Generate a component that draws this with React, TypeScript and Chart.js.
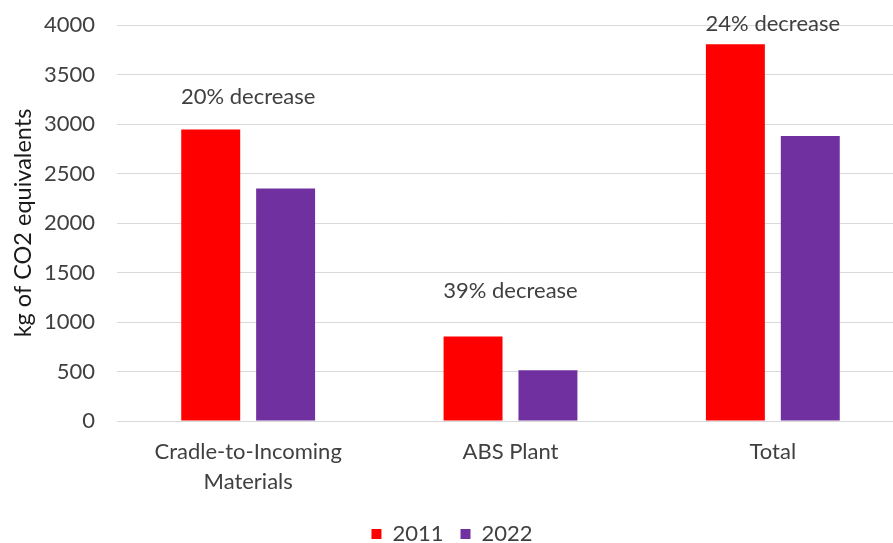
import React, { useEffect, useRef } from "react";
import { Chart, registerables } from "chart.js";

Chart.register(...registerables);

const categories: (string | string[])[] = [["Cradle-to-Incoming", "Materials"], "ABS Plant", "Total"];
const series2011 = [2945, 854, 3805];
const series2022 = [2349, 513, 2880];
const seriesNames = ["2011", "2022"];
const annotationTexts = ["20% decrease", "39% decrease", "24% decrease"];
const annotationValues = [3270, 1310, 4010];
const yTicks = [0, 500, 1000, 1500, 2000, 2500, 3000, 3500, 4000];

const FONT = "Lato, 'Open Sans', sans-serif";
const TEXT = "#404040";
const FS = 22;

const annotationPlugin = {
  id: "annot",
  afterDatasetsDraw(chart: any) {
    const ctx = chart.ctx;
    const xs = chart.scales.x;
    const ys = chart.scales.y;
    ctx.save();
    ctx.font = `${FS}px ${FONT}`;
    ctx.fillStyle = TEXT;
    ctx.textAlign = "center";
    ctx.textBaseline = "middle";
    annotationTexts.forEach((t, i) => {
      ctx.fillText(t, xs.getPixelForValue(i), ys.getPixelForValue(annotationValues[i]));
    });
    ctx.restore();
  },
};

export default function App() {
  const ref = useRef<HTMLCanvasElement>(null);
  useEffect(() => {
    document.body.style.overflow = "hidden";
    const chart = new Chart(ref.current!, {
      type: "bar",
      data: {
        labels: categories as any,
        datasets: [
          { label: seriesNames[0], data: series2011, backgroundColor: "#FF0000" },
          { label: seriesNames[1], data: series2022, backgroundColor: "#7030A0" },
        ],
      },
      options: {
        animation: false,
        responsive: false,
        maintainAspectRatio: false,
        layout: { padding: { top: 25, right: 10, left: 0, bottom: -12 } },
        datasets: { bar: { categoryPercentage: 0.571, barPercentage: 0.787 } } as any,
        plugins: {
          legend: {
            position: "bottom",
            labels: {
              boxWidth: 10,
              boxHeight: 10,
              padding: 17,
              color: TEXT,
              font: { family: FONT, size: FS },
            },
          },
          tooltip: { enabled: false },
        },
        scales: {
          x: {
            afterFit(scale: any) {
              scale.height = 85;
              scale.paddingLeft = 0;
              scale.paddingRight = 0;
            },
            grid: { display: false, drawTicks: false },
            border: { color: "#d9d9d9", width: 1 },
            ticks: {
              color: TEXT,
              padding: 16,
              maxRotation: 0,
              autoSkip: false,
              font: { family: FONT, size: FS, lineHeight: 30 / FS },
            },
          },
          y: {
            min: 0,
            max: 4000,
            afterFit(scale: any) {
              scale.width = 117;
              scale.paddingTop = 0;
              scale.paddingBottom = 0;
            },
            afterBuildTicks(scale: any) {
              scale.ticks = yTicks.map((v) => ({ value: v }));
            },
            grid: { color: "#d9d9d9", drawTicks: false },
            border: { display: false },
            ticks: {
              color: TEXT,
              padding: 22,
              font: { family: FONT, size: FS },
              callback: (v: any) => String(v),
            },
            title: {
              display: true,
              text: "kg of CO2 equivalents",
              color: "#1a1a1a",
              padding: { top: 9, bottom: 0 },
              font: { family: FONT, size: 23.5 },
            },
          },
        },
      },
      plugins: [annotationPlugin],
    });
    return () => chart.destroy();
  }, []);
  return (
    <div style={{ position: "fixed", left: 0, top: 0, width: 914, height: 543, background: "#fff" }}>
      <canvas ref={ref} width={914} height={543} style={{ display: "block" }} />
    </div>
  );
}
